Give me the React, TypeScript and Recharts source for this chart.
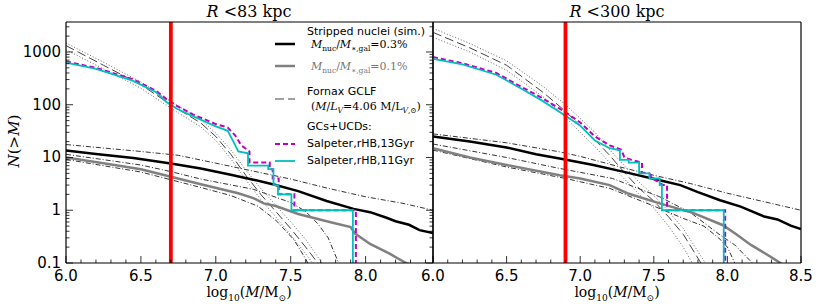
import React from 'react';
import { LineChart, Line, XAxis, YAxis, ReferenceLine } from 'recharts';

type Pt = [number, number];

// ---- left panel, R < 83 kpc  ([log10 M, N(>M)])
const L_NUC03: Pt[] = [[6.0, 13.5], [6.2, 11.6], [6.45, 9.8], [6.7, 7.7], [6.9, 6.2], [7.1, 4.7], [7.25, 3.8], [7.4, 3.0], [7.55, 2.3], [7.74, 1.5], [7.92, 1.06], [8.03, 0.92], [8.14, 0.72], [8.2, 0.62], [8.29, 0.53], [8.36, 0.42], [8.45, 0.37]];
const L_NUC01: Pt[] = [[6.0, 10], [6.25, 7.8], [6.5, 6.0], [6.7, 4.3], [6.9, 3.1], [7.15, 2.1], [7.25, 1.7], [7.32, 1.35], [7.4, 1.2], [7.55, 0.85], [7.76, 0.6], [7.9, 0.48], [7.93, 0.36], [8.03, 0.23], [8.16, 0.15], [8.27, 0.1], [8.35, 0.08]];
const L_BOUND_UP: Pt[] = [[6.0, 17.6], [6.5, 13], [6.75, 11], [7.0, 7.8], [7.5, 3.9], [7.75, 2.6], [8.0, 1.8], [8.25, 1.35], [8.45, 1.0]];
const L_BOUND_MID: Pt[] = [[6.0, 11.5], [6.5, 7.2], [6.7, 5.4], [6.9, 3.9], [7.25, 2.5], [7.5, 1.4], [7.6, 0.95], [7.68, 0.56], [7.75, 0.3], [7.82, 0.1], [7.85, 0.07]];
const L_BOUND_LOW: Pt[] = [[6.0, 9.2], [6.5, 5.3], [6.9, 2.7], [7.1, 1.9], [7.28, 1.2], [7.4, 0.65], [7.52, 0.28], [7.6, 0.12], [7.63, 0.08]];
const L_GCLF: Pt[] = [[6.0, 1320], [6.25, 560], [6.5, 240], [6.7, 100], [6.9, 45], [7.0, 25], [7.1, 11.5], [7.2, 4.6], [7.3, 2.0], [7.4, 0.95], [7.5, 0.45], [7.6, 0.2], [7.7, 0.085]];
const L_GCLF_HI: Pt[] = [[6.0, 1480], [6.25, 640], [6.5, 270], [6.7, 115], [6.9, 52], [7.0, 29], [7.1, 14], [7.2, 5.8], [7.3, 2.6], [7.4, 1.25], [7.5, 0.6], [7.6, 0.28], [7.72, 0.09]];
const L_GCLF_LO: Pt[] = [[6.0, 1100], [6.25, 480], [6.5, 205], [6.7, 86], [6.9, 38], [7.0, 21], [7.1, 9.5], [7.2, 3.8], [7.3, 1.6], [7.4, 0.75], [7.5, 0.34], [7.6, 0.15], [7.67, 0.08]];
const L_SALP13: Pt[] = [[6.0, 660], [6.2, 500], [6.44, 310], [6.6, 185], [6.67, 128], [6.74, 95], [6.85, 65], [7.0, 43], [7.08, 37], [7.13, 26], [7.17, 17], [7.225, 13], [7.225, 8], [7.36, 8], [7.36, 6], [7.38, 6], [7.38, 4], [7.42, 4], [7.42, 2], [7.525, 2], [7.525, 1], [7.935, 1], [7.935, 0.01]];
const L_SALP11: Pt[] = [[6.0, 630], [6.2, 480], [6.44, 290], [6.6, 174], [6.67, 113], [6.74, 84], [6.85, 60], [7.0, 39], [7.08, 32], [7.13, 17], [7.15, 13], [7.215, 12], [7.215, 7], [7.35, 7], [7.35, 6], [7.385, 6], [7.385, 3], [7.415, 3], [7.415, 2], [7.505, 2], [7.505, 1], [7.915, 1], [7.915, 0.01]];

// ---- right panel, R < 300 kpc
const R_NUC03: Pt[] = [[6.0, 25], [6.25, 20], [6.5, 15.5], [6.7, 11.5], [6.86, 9.6], [7.09, 7.2], [7.29, 5.4], [7.54, 3.7], [7.68, 3.0], [7.8, 2.2], [7.95, 1.55], [8.09, 1.17], [8.25, 0.76], [8.34, 0.67], [8.43, 0.51], [8.5, 0.44]];
const R_NUC01: Pt[] = [[6.0, 15], [6.25, 10], [6.5, 7.2], [6.86, 4.6], [7.0, 4.0], [7.2, 3.0], [7.32, 2.1], [7.54, 1.35], [7.77, 0.88], [7.97, 0.52], [8.06, 0.35], [8.16, 0.22], [8.26, 0.15], [8.36, 0.1], [8.4, 0.08]];
const R_BOUND_UP: Pt[] = [[6.0, 28], [6.5, 19], [6.86, 12.8], [7.0, 10.5], [7.3, 6.3], [7.5, 4.6], [7.75, 3.2], [8.0, 2.1], [8.25, 1.45], [8.5, 1.0]];
const R_BOUND_MID: Pt[] = [[6.0, 18], [6.5, 10], [6.86, 6.2], [7.22, 4.0], [7.54, 1.8], [7.75, 0.9], [7.95, 0.34], [8.05, 0.22], [8.17, 0.1], [8.2, 0.08]];
const R_BOUND_LOW: Pt[] = [[6.0, 13.8], [6.5, 6.6], [6.9, 4.0], [7.2, 2.6], [7.5, 1.2], [7.7, 0.7], [7.84, 0.5], [7.94, 0.3], [8.0, 0.2], [8.05, 0.1], [8.07, 0.08]];
const R_GCLF: Pt[] = [[6.0, 2350], [6.25, 1200], [6.5, 560], [6.75, 170], [6.9, 75], [7.0, 40], [7.09, 23], [7.2, 11], [7.3, 5.2], [7.4, 2.6], [7.5, 1.5], [7.6, 0.75], [7.7, 0.35], [7.82, 0.1], [7.85, 0.08]];
const R_GCLF_HI: Pt[] = [[6.0, 2800], [6.25, 1450], [6.5, 680], [6.75, 220], [6.9, 100], [7.0, 55], [7.1, 30], [7.2, 14], [7.3, 7], [7.4, 3.4], [7.5, 1.9], [7.6, 0.95], [7.7, 0.45], [7.86, 0.09]];
const R_GCLF_LO: Pt[] = [[6.0, 1900], [6.25, 1000], [6.5, 450], [6.75, 140], [6.9, 58], [7.0, 30], [7.1, 16], [7.2, 8], [7.3, 3.9], [7.4, 2.0], [7.5, 1.1], [7.6, 0.5], [7.7, 0.2], [7.77, 0.09]];
const R_SALP13: Pt[] = [[6.0, 800], [6.2, 610], [6.43, 400], [6.61, 210], [6.73, 140], [6.9, 72], [7.0, 46], [7.1, 25], [7.2, 17], [7.28, 14], [7.3, 10], [7.35, 9], [7.42, 8], [7.42, 5.2], [7.47, 5], [7.49, 4], [7.565, 3], [7.59, 3], [7.59, 1], [7.985, 1], [7.985, 0.01]];
const R_SALP11: Pt[] = [[6.0, 740], [6.2, 580], [6.43, 370], [6.61, 195], [6.73, 125], [6.9, 62], [7.0, 40], [7.1, 21], [7.2, 15], [7.27, 13.7], [7.27, 9], [7.33, 9], [7.33, 8], [7.4, 8], [7.4, 5], [7.47, 5], [7.47, 4], [7.54, 4], [7.54, 3], [7.555, 3], [7.555, 1], [7.975, 1], [7.975, 0.01]];

// axes
const Y_MAJOR = [0.1, 1, 10, 100, 1000];
const Y_LABELS = ['0.1', '1', '10', '100', '1000'];
const Y_MANTISSA = [2, 3, 4, 5, 6, 7, 8, 9];
const Y_MAX = 3700;
const X_MAJOR_L = [6.0, 6.5, 7.0, 7.5, 8.0];
const X_MAJOR_R = [6.0, 6.5, 7.0, 7.5, 8.0, 8.5];
const X_SUB = [0.1, 0.2, 0.3, 0.4];
const X_MAX = [8.45, 8.5];
const R_CUT = [6.7, 6.9];
const TITLES = ['83', '300'];

const H = 308;
const PLOT_TOP = 22;
const PLOT_BOTTOM = 263;
const TICK_FONT = '"DejaVu Sans", sans-serif';
const SERIF = '"DejaVu Serif", serif';

const yTicks = [
  ...Y_MAJOR,
  ...Y_MAJOR.flatMap((d) => Y_MANTISSA.map((m) => d * m)).filter((v) => v < Y_MAX),
];

const isMajorY = (v: number) => Y_MAJOR.some((m) => Math.abs(m - v) < 1e-9);
const isMajorX = (v: number) => Math.abs(v * 2 - Math.round(v * 2)) < 1e-6;

const pts = (p: Pt[]) => p.map(([x, y]) => ({ x, y }));

const STYLE = {
  bound: { stroke: '#000', width: 0.8, dash: '5 2 1 2' },
  gclfBound: { stroke: '#555', width: 0.9, dash: '1 2' },
  gclf: { stroke: '#444', width: 1, dash: '9 4' },
  nuc01: { stroke: '#808080', width: 2.5, dash: undefined },
  nuc03: { stroke: '#000', width: 2.5, dash: undefined },
  salp13: { stroke: '#bf00bf', width: 2, dash: '5 3' },
  salp11: { stroke: '#00bfbf', width: 1.8, dash: undefined },
};

interface PanelProps {
  idx: number;
  left: number;
  width: number;
  plotLeft: number;
  plotRight: number;
  xMajor: number[];
  series: { data: Pt[]; style: { stroke: string; width: number; dash?: string } }[];
  showYLabels: boolean;
}

function Panel({ idx, left, width, plotLeft, plotRight, xMajor, series, showYLabels }: PanelProps) {
  const xMax = X_MAX[idx];
  const xTicks = [...xMajor, ...xMajor.flatMap((m) => X_SUB.map((s) => +(m + s).toFixed(2)))].filter((v) => v <= xMax);
  // axes are 1px thick, so the margins stop one pixel short of the plot box
  const margin = {
    top: PLOT_TOP - 1,
    bottom: H - PLOT_BOTTOM - 1,
    left: plotLeft - left - 1,
    right: left + width - plotRight - 1,
  };

  const yTickLeft = (p: any) => {
    const major = isMajorY(p.payload.value);
    const i = Y_MAJOR.findIndex((m) => Math.abs(m - p.payload.value) < 1e-9);
    return (
      <g>
        <line x1={plotLeft} x2={plotLeft + (major ? 7 : 3.5)} y1={p.y} y2={p.y} stroke="#000" strokeWidth={0.8} />
        {showYLabels && major && (
          <text x={plotLeft - 5} y={p.y} textAnchor="end" dominantBaseline="central" fontSize={15} fontFamily={TICK_FONT} fill="#000">
            {Y_LABELS[i]}
          </text>
        )}
      </g>
    );
  };
  const yTickRight = (p: any) => {
    const major = isMajorY(p.payload.value);
    return <line x1={plotRight} x2={plotRight - (major ? 7 : 3.5)} y1={p.y} y2={p.y} stroke="#000" strokeWidth={0.8} />;
  };
  const xTickBottom = (p: any) => {
    const major = isMajorX(p.payload.value);
    return (
      <g>
        <line x1={p.x} x2={p.x} y1={PLOT_BOTTOM} y2={PLOT_BOTTOM - (major ? 7 : 3.5)} stroke="#000" strokeWidth={0.8} />
        {major && (
          <text x={p.x} y={PLOT_BOTTOM + 13} textAnchor="middle" dominantBaseline="central" fontSize={15} fontFamily={TICK_FONT} fill="#000">
            {p.payload.value.toFixed(1)}
          </text>
        )}
      </g>
    );
  };
  const xTickTop = (p: any) => {
    const major = isMajorX(p.payload.value);
    return <line x1={p.x} x2={p.x} y1={PLOT_TOP} y2={PLOT_TOP + (major ? 7 : 3.5)} stroke="#000" strokeWidth={0.8} />;
  };

  const axisLine = { stroke: '#000', strokeWidth: 1.2 };

  return (
    <div style={{ position: 'absolute', left, top: 0 }}>
      <LineChart width={width} height={H} margin={margin}>
        <XAxis dataKey="x" type="number" domain={[6, xMax]} allowDataOverflow ticks={xTicks} interval={0} height={1} tickLine={false} axisLine={axisLine} tick={xTickBottom} />
        <XAxis xAxisId="top" orientation="top" type="number" domain={[6, xMax]} allowDataOverflow ticks={xTicks} interval={0} height={1} tickLine={false} axisLine={axisLine} tick={xTickTop} />
        <YAxis type="number" scale="log" domain={[0.1, Y_MAX]} allowDataOverflow ticks={yTicks} interval={0} width={1} tickLine={false} axisLine={axisLine} tick={yTickLeft} />
        <YAxis yAxisId="right" orientation="right" type="number" scale="log" domain={[0.1, Y_MAX]} allowDataOverflow ticks={yTicks} interval={0} width={1} tickLine={false} axisLine={axisLine} tick={yTickRight} />
        {series.map((s, i) => (
          <Line
            key={i}
            data={pts(s.data)}
            dataKey="y"
            type="linear"
            dot={false}
            activeDot={false}
            isAnimationActive={false}
            stroke={s.style.stroke}
            strokeWidth={s.style.width}
            strokeDasharray={s.style.dash}
          />
        ))}
        <ReferenceLine x={R_CUT[idx]} stroke="#ff0000" strokeWidth={3.8} />
      </LineChart>
    </div>
  );
}

function Title({ cx, kpc }: { cx: number; kpc: string }) {
  return (
    <div style={{ position: 'absolute', left: cx - 80, width: 160, top: 1, textAlign: 'center', fontFamily: SERIF, fontSize: 16, lineHeight: '22px', whiteSpace: 'nowrap' }}>
      <i>R</i> &lt;{kpc} kpc
    </div>
  );
}

function XLabel({ cx }: { cx: number }) {
  return (
    <div style={{ position: 'absolute', left: cx - 80, width: 160, top: 282, textAlign: 'center', fontFamily: SERIF, fontSize: 14, lineHeight: '20px', whiteSpace: 'nowrap' }}>
      log<sub style={{ fontSize: 9 }}>10</sub>(<i>M</i>/M<sub style={{ fontSize: 9 }}>⊙</sub>)
    </div>
  );
}

function LegendSample({ y, style }: { y: number; style: { stroke: string; width: number; dash?: string } }) {
  return (
    <svg style={{ position: 'absolute', left: 274, top: y - 4 }} width={22} height={8}>
      <line x1={1} x2={21} y1={4} y2={4} stroke={style.stroke} strokeWidth={style.width} strokeDasharray={style.dash} />
    </svg>
  );
}

function LegendText({ y, children, serif }: { y: number; children: React.ReactNode; serif?: boolean }) {
  return (
    <div style={{ position: 'absolute', left: serif ? 311 : 307, top: y - 8, height: 16, lineHeight: '16px', fontFamily: serif ? SERIF : TICK_FONT, fontSize: 11, whiteSpace: 'nowrap' }}>
      {children}
    </div>
  );
}

const sub = { fontSize: 7.5 };

function Legend() {
  return (
    <>
      <LegendText y={31.5}>Stripped nuclei (sim.)</LegendText>
      <LegendSample y={43.5} style={STYLE.nuc03} />
      <LegendText y={45} serif>
        <i>M</i><sub style={sub}>nuc</sub>/<i>M</i><sub style={sub}>∗,gal</sub>=0.3%
      </LegendText>
      <LegendSample y={66} style={STYLE.nuc01} />
      <LegendText y={66.5} serif>
        <span style={{ color: '#777' }}><i>M</i><sub style={sub}>nuc</sub>/<i>M</i><sub style={sub}>∗,gal</sub>=0.1%</span>
      </LegendText>
      <LegendText y={92}>Fornax GCLF</LegendText>
      <LegendSample y={99} style={STYLE.gclf} />
      <LegendText y={107} serif>
        (<i>M</i>/<i>L</i><sub style={sub}><i>V</i></sub>=4.06 M/L<sub style={sub}><i>V</i>,⊙</sub>)
      </LegendText>
      <LegendText y={127}>GCs+UCDs:</LegendText>
      <LegendSample y={144} style={STYLE.salp13} />
      <LegendText y={144}>Salpeter,rHB,13Gyr</LegendText>
      <LegendSample y={160.5} style={STYLE.salp11} />
      <LegendText y={160.5}>Salpeter,rHB,11Gyr</LegendText>
    </>
  );
}

export default function App() {
  const leftSeries = [
    { data: L_BOUND_UP, style: STYLE.bound },
    { data: L_BOUND_MID, style: STYLE.bound },
    { data: L_BOUND_LOW, style: STYLE.bound },
    { data: L_GCLF_HI, style: STYLE.gclfBound },
    { data: L_GCLF_LO, style: STYLE.gclfBound },
    { data: L_GCLF, style: STYLE.gclf },
    { data: L_NUC01, style: STYLE.nuc01 },
    { data: L_NUC03, style: STYLE.nuc03 },
    { data: L_SALP13, style: STYLE.salp13 },
    { data: L_SALP11, style: STYLE.salp11 },
  ];
  const rightSeries = [
    { data: R_BOUND_UP, style: STYLE.bound },
    { data: R_BOUND_MID, style: STYLE.bound },
    { data: R_BOUND_LOW, style: STYLE.bound },
    { data: R_GCLF_HI, style: STYLE.gclfBound },
    { data: R_GCLF_LO, style: STYLE.gclfBound },
    { data: R_GCLF, style: STYLE.gclf },
    { data: R_NUC01, style: STYLE.nuc01 },
    { data: R_NUC03, style: STYLE.nuc03 },
    { data: R_SALP13, style: STYLE.salp13 },
    { data: R_SALP11, style: STYLE.salp11 },
  ];

  return (
    <div style={{ position: 'relative', width: 822, height: 308, background: '#fff', overflow: 'hidden' }}>
      <style>{'body{margin:0}'}</style>
      <Panel idx={0} left={0} width={440} plotLeft={66} plotRight={433} xMajor={X_MAJOR_L} series={leftSeries} showYLabels />
      <Panel idx={1} left={420} width={402} plotLeft={433} plotRight={801} xMajor={X_MAJOR_R} series={rightSeries} showYLabels={false} />
      <Title cx={249} kpc={TITLES[0]} />
      <Title cx={617} kpc={TITLES[1]} />
      <XLabel cx={249} />
      <XLabel cx={617} />
      <div style={{ position: 'absolute', left: 14, top: 141, transform: 'translate(-50%, -50%) rotate(-90deg)', fontFamily: SERIF, fontSize: 15, whiteSpace: 'nowrap' }}>
        <i>N</i>(&gt;<i>M</i>)
      </div>
      <Legend />
    </div>
  );
}
